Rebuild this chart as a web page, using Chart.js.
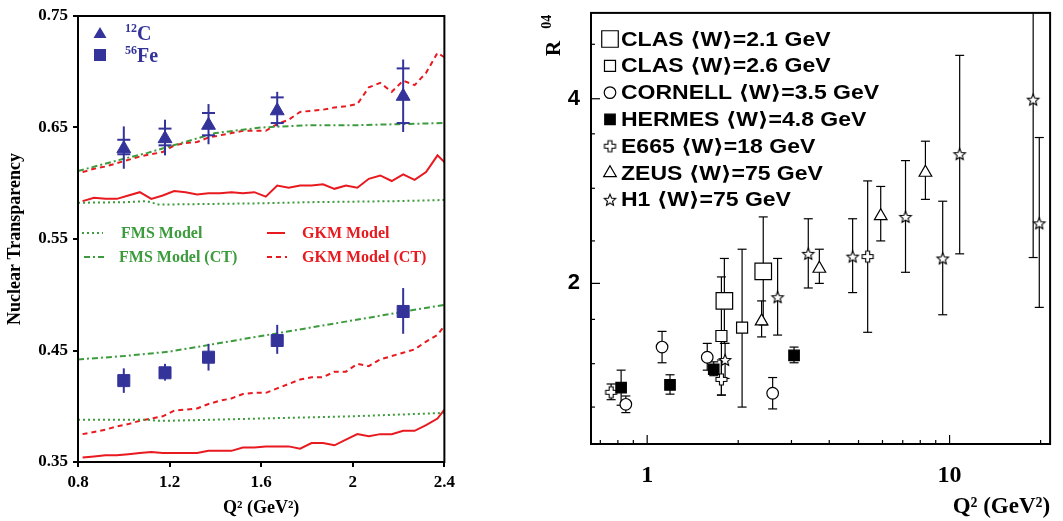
<!DOCTYPE html>
<html>
<head>
<meta charset="utf-8">
<script src="https://cdn.jsdelivr.net/npm/chart.js@4.4.1/dist/chart.umd.min.js"></script>
<style>
  body { margin: 0; background: #fff; }
  #left { position: absolute; left: 0; top: 0; }
  #right { position: absolute; left: 520px; top: 0; }
</style>
</head>
<body>
<canvas id="left" width="460" height="521"></canvas>
<canvas id="right" width="543" height="521"></canvas>
<script>
// ---------- left panel: nuclear transparency ----------
const q2Ticks = [0.8, 1.2, 1.6, 2, 2.4];
const transTicks = [0.35, 0.45, 0.55, 0.65, 0.75];

const dataQ2 = [1.0, 1.18, 1.37, 1.67, 2.22];
const carbonT = [0.631, 0.640, 0.652, 0.665, 0.678];
const carbonStatLo = [0.626, 0.634, 0.643, 0.654, 0.654];
const carbonStatHi = [0.639, 0.649, 0.663, 0.677, 0.703];
const carbonTotLo = [0.613, 0.625, 0.635, 0.651, 0.646];
const carbonTotHi = [0.651, 0.657, 0.671, 0.682, 0.711];
const ironT = [0.423, 0.430, 0.444, 0.459, 0.485];
const ironLo = [0.412, 0.423, 0.432, 0.447, 0.465];
const ironHi = [0.434, 0.438, 0.456, 0.473, 0.506];

const fmsQ2 = [0.8, 1.0, 1.1, 1.15, 1.2, 1.4, 1.6, 1.8, 2.0, 2.2, 2.4];
const fmsCarbon = [0.5825, 0.583, 0.584, 0.581, 0.581, 0.5815, 0.582, 0.583, 0.5835, 0.584, 0.585];
const fmsCarbonCT = [0.611, 0.622, 0.627, 0.630, 0.633, 0.645, 0.650, 0.652, 0.652, 0.653, 0.654];
const fmsIron = [0.388, 0.388, 0.388, 0.387, 0.387, 0.388, 0.389, 0.390, 0.391, 0.3925, 0.394];
const fmsIronCT = [0.442, 0.445, 0.447, 0.448, 0.449, 0.456, 0.463, 0.470, 0.477, 0.484, 0.491];

const gkmQ2 = [0.82, 0.87, 0.92, 0.97, 1.02, 1.07, 1.12, 1.17, 1.22, 1.27, 1.32, 1.37, 1.42, 1.47, 1.52, 1.57,
  1.62, 1.67, 1.72, 1.77, 1.82, 1.87, 1.92, 1.97, 2.02, 2.07, 2.12, 2.17, 2.22, 2.27, 2.32, 2.37, 2.4];
const gkmCarbon = [0.584, 0.587, 0.586, 0.586, 0.589, 0.592, 0.586, 0.589, 0.593, 0.592, 0.590, 0.591, 0.591, 0.592, 0.591, 0.592,
  0.588, 0.598, 0.596, 0.598, 0.598, 0.599, 0.595, 0.598, 0.596, 0.604, 0.607, 0.602, 0.608, 0.603, 0.610, 0.625, 0.619];
const gkmCarbonCT = [0.610, 0.613, 0.615, 0.618, 0.621, 0.624, 0.626, 0.628, 0.634, 0.636, 0.637, 0.641, 0.643, 0.645, 0.647, 0.647,
  0.647, 0.653, 0.657, 0.664, 0.665, 0.666, 0.668, 0.669, 0.671, 0.686, 0.690, 0.682, 0.692, 0.688, 0.699, 0.717, 0.713];
const gkmIron = [0.354, 0.355, 0.356, 0.356, 0.357, 0.358, 0.359, 0.358, 0.358, 0.358, 0.358, 0.360, 0.360, 0.360, 0.363, 0.363,
  0.364, 0.364, 0.364, 0.362, 0.367, 0.367, 0.365, 0.370, 0.375, 0.373, 0.375, 0.375, 0.378, 0.378, 0.383, 0.389, 0.397];
const gkmIronCT = [0.375, 0.377, 0.379, 0.382, 0.384, 0.387, 0.389, 0.391, 0.396, 0.397, 0.398, 0.402, 0.405, 0.407, 0.411, 0.412,
  0.412, 0.416, 0.420, 0.424, 0.426, 0.426, 0.431, 0.431, 0.438, 0.436, 0.442, 0.445, 0.448, 0.451, 0.458, 0.464, 0.472];

// ---------- right panel: R04 vs Q2 ----------
const q2TicksR = [0.7, 0.8, 0.9, 1, 2, 3, 4, 5, 6, 7, 8, 9, 10, 20];
const q2LabelsR = [1, 10];
const rTicks = [0.66, 1.13, 1.61, 2, 2.46, 3.03, 3.62, 4, 4.59];
const rLabels = [2, 4];

const clas21Q2 = [1.80, 2.42];
const clas21R = [1.81, 2.13];
const clas21Lo = [1.35, 1.55];
const clas21Hi = [2.27, 2.72];

const clas26Q2 = [1.76, 2.06];
const clas26R = [1.43, 1.52];
const clas26Lo = [0.79, 0.66];
const clas26Hi = [2.07, 2.37];

const cornellQ2 = [0.85, 1.12, 1.58, 2.60];
const cornellR = [0.69, 1.31, 1.20, 0.81];
const cornellLo = [0.60, 1.14, 1.06, 0.64];
const cornellHi = [0.78, 1.48, 1.35, 0.98];

const hermesQ2 = [0.82, 1.19, 1.66, 3.06];
const hermesR = [0.87, 0.90, 1.07, 1.22];
const hermesLo = [0.68, 0.80, 1.00, 1.14];
const hermesHi = [1.06, 1.01, 1.15, 1.31];

const e665Q2 = [0.76, 1.76, 5.36];
const e665R = [0.82, 0.96, 2.29];
const e665Lo = [0.74, 0.79, 1.47];
const e665Hi = [0.91, 1.17, 3.11];

const zeusQ2 = [2.39, 3.71, 5.92, 8.32];
const zeusR = [1.59, 2.16, 2.73, 3.20];
const zeusLo = [1.42, 2.00, 2.46, 2.91];
const zeusHi = [1.81, 2.37, 3.05, 3.54];

const h1Q2 = [1.81, 2.70, 3.41, 4.78, 7.15, 9.49, 10.8, 18.9, 19.8];
const h1R = [1.17, 1.85, 2.32, 2.29, 2.72, 2.27, 3.40, 3.99, 2.65];
const h1Lo = [0.97, 1.44, 1.95, 1.90, 2.12, 1.66, 2.32, 2.28, 1.74];
const h1Hi = [1.35, 2.27, 2.70, 2.70, 3.33, 2.89, 4.47, 5.30, 3.58];

// ---------- styles ----------
const blue = "#33339a";
const green = "#3c9b3c";
const red = "#e8191f";
const serif = "'Liberation Serif', 'Times New Roman', serif";
const sans = "'Liberation Sans', 'DejaVu Sans', Arial, sans-serif";

function pairs(xs, ys) {
    return xs.map(function (x, i) { return { x: x, y: ys[i] }; });
}

function line(ctx, x1, y1, x2, y2) {
    ctx.beginPath();
    ctx.moveTo(x1, y1);
    ctx.lineTo(x2, y2);
    ctx.stroke();
}

function supText(ctx, x, y, sup, main, size, color) {
    ctx.fillStyle = color;
    ctx.textBaseline = "alphabetic";
    ctx.textAlign = "left";
    ctx.font = "bold " + Math.round(size * 0.6) + "px " + serif;
    ctx.fillText(sup, x, y - size * 0.38);
    let w = ctx.measureText(sup).width;
    ctx.font = "bold " + size + "px " + serif;
    ctx.fillText(main, x + w, y);
}

function modelLine(xs, ys, color, dash) {
    return {
        data: pairs(xs, ys),
        showLine: true,
        borderColor: color,
        borderWidth: 2,
        borderDash: dash,
        pointRadius: 0,
        tension: 0,
        order: 2
    };
}

const leftExtras = {
    id: "leftExtras",
    afterDatasetsDraw(chart) {
        const ctx = chart.ctx;
        const x = chart.scales.x;
        const y = chart.scales.y;
        ctx.save();
        ctx.strokeStyle = blue;
        ctx.lineWidth = 2;
        dataQ2.forEach(function (q, i) {
            let px = x.getPixelForValue(q);
            line(ctx, px, y.getPixelForValue(carbonTotLo[i]), px, y.getPixelForValue(carbonTotHi[i]));
            [carbonStatLo[i], carbonStatHi[i]].forEach(function (v) {
                let py = y.getPixelForValue(v);
                line(ctx, px - 6.5, py, px + 6.5, py);
            });
            line(ctx, px, y.getPixelForValue(ironLo[i]), px, y.getPixelForValue(ironHi[i]));
        });
        ctx.restore();
    },
    afterDraw(chart) {
        const ctx = chart.ctx;
        const a = chart.chartArea;
        ctx.save();
        ctx.strokeStyle = "#000";
        ctx.lineWidth = 2;
        ctx.strokeRect(a.left, a.top, a.right - a.left, a.bottom - a.top);

        // target legend
        ctx.fillStyle = blue;
        ctx.beginPath();
        ctx.moveTo(100, 27);
        ctx.lineTo(106.5, 38);
        ctx.lineTo(93.5, 38);
        ctx.closePath();
        ctx.fill();
        ctx.fillRect(94, 49, 12, 12);
        supText(ctx, 125, 40, "12", "C", 20, blue);
        supText(ctx, 125, 62, "56", "Fe", 20, blue);

        // model legend
        const rows = [
            [233, green, [2, 3], "FMS Model", 82, 103, 121],
            [257, green, [6, 3, 2, 3], "FMS Model (CT)", 84, 105, 119],
            [233, red, [], "GKM Model", 267, 285, 302],
            [257, red, [5, 4], "GKM Model (CT)", 267, 287, 302]
        ];
        ctx.lineWidth = 2;
        ctx.font = "bold 16px " + serif;
        ctx.textBaseline = "middle";
        rows.forEach(function (r) {
            ctx.strokeStyle = r[1];
            ctx.setLineDash(r[2]);
            line(ctx, r[4], r[0], r[5], r[0]);
            ctx.setLineDash([]);
            ctx.fillStyle = r[1];
            ctx.fillText(r[3], r[6], r[0] + 1);
        });
        ctx.restore();
    }
};

new Chart(document.getElementById("left"), {
    type: "scatter",
    data: {
        datasets: [
            {
                data: pairs(dataQ2, carbonT),
                pointStyle: "triangle",
                pointRadius: 8,
                backgroundColor: blue,
                borderColor: blue,
                borderWidth: 1,
                order: 0
            },
            {
                data: pairs(dataQ2, ironT),
                pointStyle: "rect",
                pointRadius: 8.5,
                backgroundColor: blue,
                borderColor: blue,
                borderWidth: 1,
                order: 0
            },
            modelLine(fmsQ2, fmsCarbon, green, [2, 3]),
            modelLine(fmsQ2, fmsCarbonCT, green, [6, 3, 2, 3]),
            modelLine(fmsQ2, fmsIron, green, [2, 3]),
            modelLine(fmsQ2, fmsIronCT, green, [6, 3, 2, 3]),
            modelLine(gkmQ2, gkmCarbon, red, []),
            modelLine(gkmQ2, gkmCarbonCT, red, [5, 4]),
            modelLine(gkmQ2, gkmIron, red, []),
            modelLine(gkmQ2, gkmIronCT, red, [5, 4])
        ]
    },
    options: {
        responsive: false,
        animation: false,
        layout: { padding: { left: 0, top: 16, right: 13, bottom: 0 } },
        plugins: { legend: { display: false }, tooltip: { enabled: false } },
        scales: {
            x: {
                type: "linear",
                min: 0.8,
                max: 2.4,
                afterBuildTicks: function (s) { s.ticks = q2Ticks.map(function (v) { return { value: v }; }); },
                afterFit: function (s) { s.height = 59; },
                grid: { drawOnChartArea: false, drawTicks: true, tickLength: 5, color: "#000", lineWidth: 2 },
                border: { color: "#000", width: 2 },
                ticks: {
                    autoSkip: false, maxRotation: 0, padding: 5, color: "#000",
                    font: { family: serif, weight: "bold", size: 17 },
                    callback: function (v) { return String(v); }
                },
                title: {
                    display: true, text: "Q² (GeV²)", color: "#000", padding: { top: 2, bottom: 2 },
                    font: { family: serif, weight: "bold", size: 18 }
                }
            },
            y: {
                min: 0.35,
                max: 0.75,
                afterBuildTicks: function (s) { s.ticks = transTicks.map(function (v) { return { value: v }; }); },
                afterFit: function (s) { s.width = 78; },
                grid: { drawOnChartArea: false, drawTicks: true, tickLength: 5, color: "#000", lineWidth: 2 },
                border: { color: "#000", width: 2 },
                ticks: {
                    padding: 5, color: "#000",
                    font: { family: serif, weight: "bold", size: 17 },
                    callback: function (v) { return v.toFixed(2); }
                },
                title: {
                    display: true, text: "Nuclear Transparency", color: "#000", padding: { top: 5, bottom: 5 },
                    font: { family: serif, weight: "bold", size: 18 }
                }
            }
        }
    },
    plugins: [leftExtras]
});

// ---------- right panel markers ----------
function starMarker(r) {
    const c = document.createElement("canvas");
    const s = Math.ceil(r * 2 + 4);
    c.width = s;
    c.height = s;
    const g = c.getContext("2d");
    g.translate(s / 2, s / 2 + 0.5);
    g.beginPath();
    for (let i = 0; i < 10; i++) {
        let rad = i % 2 === 0 ? r : r * 0.45;
        let ang = -Math.PI / 2 + i * Math.PI / 5;
        g.lineTo(rad * Math.cos(ang), rad * Math.sin(ang));
    }
    g.closePath();
    g.fillStyle = "#fff";
    g.fill();
    g.strokeStyle = "#000";
    g.lineWidth = 1.1;
    g.stroke();
    return c;
}

function plusMarker(r, w) {
    const c = document.createElement("canvas");
    const s = Math.ceil(r * 2 + 4);
    c.width = s;
    c.height = s;
    const g = c.getContext("2d");
    g.translate(s / 2, s / 2);
    const p = [[-w, -r], [w, -r], [w, -w], [r, -w], [r, w], [w, w], [w, r], [-w, r], [-w, w], [-r, w], [-r, -w], [-w, -w]];
    g.beginPath();
    p.forEach(function (pt) { g.lineTo(pt[0], pt[1]); });
    g.closePath();
    g.fillStyle = "#fff";
    g.fill();
    g.strokeStyle = "#000";
    g.lineWidth = 1.1;
    g.stroke();
    return c;
}

const starImg = starMarker(6);
const plusImg = plusMarker(5.5, 2);

function drawMarker(ctx, style, r, fill, x, y) {
    if (typeof style !== "string") {
        ctx.drawImage(style, x - style.width / 2, y - style.height / 2);
        return;
    }
    ctx.beginPath();
    if (style === "rect") {
        let h = r * Math.SQRT1_2;
        ctx.rect(x - h, y - h, 2 * h, 2 * h);
    } else if (style === "circle") {
        ctx.arc(x, y, r, 0, Math.PI * 2);
    } else {
        for (let k = 0; k < 3; k++) {
            let ang = k * 2 * Math.PI / 3;
            ctx.lineTo(x + Math.sin(ang) * r, y - Math.cos(ang) * r);
        }
        ctx.closePath();
    }
    ctx.fillStyle = fill;
    ctx.fill();
    ctx.strokeStyle = "#000";
    ctx.lineWidth = 1.2;
    ctx.stroke();
}

function experiment(label, xs, ys, lo, hi, style, r, fill) {
    return {
        label: label,
        data: pairs(xs, ys),
        lo: lo,
        hi: hi,
        pointStyle: style,
        pointRadius: r,
        backgroundColor: fill,
        borderColor: "#000",
        borderWidth: 1.2
    };
}

const rightExtras = {
    id: "rightExtras",
    beforeDatasetsDraw(chart) {
        const ctx = chart.ctx;
        const a = chart.chartArea;
        const x = chart.scales.x;
        const y = chart.scales.y;
        ctx.save();
        ctx.beginPath();
        ctx.rect(a.left, a.top, a.right - a.left, a.bottom - a.top);
        ctx.clip();
        ctx.strokeStyle = "#000";
        ctx.lineWidth = 1.2;
        chart.data.datasets.forEach(function (ds) {
            ds.data.forEach(function (p, i) {
                let px = x.getPixelForValue(p.x);
                let top = y.getPixelForValue(ds.hi[i]);
                let bot = y.getPixelForValue(ds.lo[i]);
                line(ctx, px, top, px, bot);
                line(ctx, px - 4.5, top, px + 4.5, top);
                line(ctx, px - 4.5, bot, px + 4.5, bot);
            });
        });
        ctx.restore();
    },
    afterDraw(chart) {
        const ctx = chart.ctx;
        const a = chart.chartArea;
        const x = chart.scales.x;
        const y = chart.scales.y;
        ctx.save();
        ctx.strokeStyle = "#000";
        ctx.lineWidth = 2;
        ctx.strokeRect(a.left, a.top, a.right - a.left, a.bottom - a.top);

        // inward tick marks
        ctx.lineWidth = 1.2;
        q2TicksR.forEach(function (v) {
            let px = x.getPixelForValue(v);
            let len = q2LabelsR.includes(v) ? 9 : 4;
            line(ctx, px, a.bottom, px, a.bottom - len);
        });
        rTicks.forEach(function (v) {
            let py = y.getPixelForValue(v);
            let len = rLabels.includes(v) ? 9 : 4;
            line(ctx, a.left, py, a.left + len, py);
        });

        // legend
        ctx.font = "bold 20px " + sans;
        ctx.textBaseline = "middle";
        ctx.textAlign = "left";
        chart.data.datasets.forEach(function (ds, i) {
            let rowY = 39 + i * 26.8;
            drawMarker(ctx, ds.pointStyle, ds.pointRadius, ds.backgroundColor, 90, rowY);
            ctx.save();
            ctx.translate(101, rowY + 1);
            ctx.scale(1.15, 1);
            ctx.fillStyle = "#000";
            ctx.fillText(ds.label, 0, 0);
            ctx.restore();
        });

        // rotated axis title R^04
        ctx.translate(40, 56);
        ctx.rotate(-Math.PI / 2);
        ctx.fillStyle = "#000";
        ctx.textBaseline = "alphabetic";
        ctx.font = "bold 21px " + serif;
        ctx.fillText("R", 0, 0);
        let w = ctx.measureText("R").width;
        ctx.font = "bold 14px " + serif;
        ctx.fillText("04", w + 12, -9);
        ctx.restore();
    }
};

new Chart(document.getElementById("right"), {
    type: "scatter",
    data: {
        datasets: [
            experiment("CLAS ⟨W⟩=2.1 GeV", clas21Q2, clas21R, clas21Lo, clas21Hi, "rect", 11.7, "#fff"),
            experiment("CLAS ⟨W⟩=2.6 GeV", clas26Q2, clas26R, clas26Lo, clas26Hi, "rect", 7.8, "#fff"),
            experiment("CORNELL ⟨W⟩=3.5 GeV", cornellQ2, cornellR, cornellLo, cornellHi, "circle", 5.8, "#fff"),
            experiment("HERMES ⟨W⟩=4.8 GeV", hermesQ2, hermesR, hermesLo, hermesHi, "rect", 7.4, "#000"),
            experiment("E665 ⟨W⟩=18 GeV", e665Q2, e665R, e665Lo, e665Hi, plusImg, 6, "#fff"),
            experiment("ZEUS ⟨W⟩=75 GeV", zeusQ2, zeusR, zeusLo, zeusHi, "triangle", 7.3, "#fff"),
            experiment("H1 ⟨W⟩=75 GeV", h1Q2, h1R, h1Lo, h1Hi, starImg, 6, "#fff")
        ]
    },
    options: {
        responsive: false,
        animation: false,
        layout: { padding: { left: 0, top: 12, right: 9, bottom: 0 } },
        plugins: { legend: { display: false }, tooltip: { enabled: false } },
        scales: {
            x: {
                type: "logarithmic",
                min: 0.652,
                max: 21.5,
                afterBuildTicks: function (s) { s.ticks = q2TicksR.map(function (v) { return { value: v }; }); },
                afterFit: function (s) {
                    s.height = 77;
                    s.paddingLeft = 0;
                    s.paddingRight = 0;
                },
                grid: { display: false, drawTicks: false },
                border: { display: false },
                ticks: {
                    autoSkip: false, maxRotation: 0, padding: 17, color: "#000",
                    font: { family: serif, weight: "bold", size: 24 },
                    callback: function (v) { return q2LabelsR.includes(v) ? String(v) : ""; }
                },
                title: {
                    display: true, text: "Q² (GeV²)", align: "end", color: "#000", padding: 0,
                    font: { family: serif, weight: "bold", size: 23 }
                }
            },
            y: {
                min: 0.26,
                max: 4.93,
                afterBuildTicks: function (s) { s.ticks = rTicks.map(function (v) { return { value: v }; }); },
                afterFit: function (s) {
                    s.width = 71;
                    s.paddingTop = 0;
                    s.paddingBottom = 0;
                },
                grid: { display: false, drawTicks: false },
                border: { display: false },
                ticks: {
                    padding: 11, color: "#000",
                    font: { family: sans, weight: "bold", size: 22 },
                    callback: function (v) { return rLabels.includes(v) ? String(v) : ""; }
                }
            }
        }
    },
    plugins: [rightExtras]
});
</script>
</body>
</html>
